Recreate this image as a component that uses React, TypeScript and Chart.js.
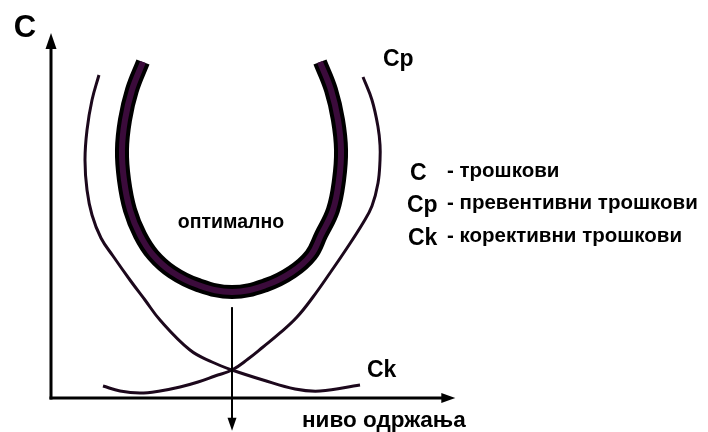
import { useEffect, useRef } from "react";
import { Chart, registerables } from "chart.js";

Chart.register(...registerables);

// maintenance level (x, 0..100) and cost (y, 0..100)
const correctiveLevel = [7.38, 6.31, 5.54, 5.23, 5.54, 6.31, 7.69, 9.54, 12.15, 14.46, 16.77, 21.38, 24.77, 27.85, 32.62, 37.54, 41.38, 47.54];
const correctiveCost = [88.49, 81.64, 73.42, 65.21, 56.99, 50.14, 43.84, 38.9, 32.33, 26.85, 21.37, 13.15, 9.86, 7.67, 4.93, 2.47, 1.92, 3.56];

const preventiveLevel = [8.0, 10.62, 13.69, 16.77, 19.85, 22.62, 25.23, 27.85, 30.31, 32.62, 35.23, 37.85, 40.31, 42.92, 45.54, 48.0, 49.38, 50.31, 50.62, 50.62, 50.31, 49.38, 48.0];
const preventiveCost = [3.29, 1.92, 1.37, 1.92, 3.01, 4.38, 6.03, 7.67, 10.68, 13.97, 17.81, 22.19, 27.67, 34.25, 41.1, 47.95, 52.6, 58.9, 65.2, 69.3, 74.25, 81.64, 87.95];

const totalLevel = [14.15, 12.46, 11.38, 10.92, 11.23, 12.15, 13.69, 15.69, 18.62, 22.62, 27.85, 33.08, 37.08, 40.0, 41.54, 43.38, 44.31, 44.62, 44.15, 43.08, 41.38];
const totalCost = [92.05, 84.38, 76.16, 67.95, 59.73, 51.51, 44.66, 39.18, 34.52, 30.96, 29.04, 30.96, 34.52, 39.18, 44.66, 51.51, 59.73, 67.95, 76.16, 84.38, 92.05];

const optimumLevel = 27.85;
const optimumLineTop = 24.9;
const optimumLineBottom = -9.0;
const xAxisEnd = 62.2;
const yAxisEnd = 100;

const axisTitleY = "C";
const axisTitleX = "ниво одржања";
const optimumLabel = "оптимално";
const curveLabels = ["Cp", "Ck"];
const legendSymbols = ["C", "Cp", "Ck"];
const legendTexts = ["- трошкови", "- превентивни трошкови", "- корективни трошкови"];

const toPoints = (xs: number[], ys: number[]) => xs.map((x, i) => ({ x, y: ys[i] }));

const FONT = "'Liberation Sans', Arial, sans-serif";

function arrow(ctx: CanvasRenderingContext2D, x1: number, y1: number, x2: number, y2: number, lw: number, hl: number, hw: number) {
  const dx = x2 - x1, dy = y2 - y1;
  const len = Math.hypot(dx, dy);
  const ux = dx / len, uy = dy / len;
  const bx = x2 - ux * hl, by = y2 - uy * hl;
  ctx.lineWidth = lw;
  ctx.beginPath();
  ctx.moveTo(x1, y1);
  ctx.lineTo(bx + ux, by + uy);
  ctx.stroke();
  ctx.beginPath();
  ctx.moveTo(x2, y2);
  ctx.lineTo(bx - uy * hw / 2, by + ux * hw / 2);
  ctx.lineTo(bx + uy * hw / 2, by - ux * hw / 2);
  ctx.closePath();
  ctx.fill();
}

const annotations = {
  id: "annotations",
  beforeDatasetsDraw(chart: any) {
    const { ctx, scales } = chart;
    const X = (v: number) => scales.x.getPixelForValue(v);
    const Y = (v: number) => scales.y.getPixelForValue(v);
    ctx.save();
    ctx.strokeStyle = "#000";
    ctx.fillStyle = "#000";
    ctx.lineCap = "butt";
    arrow(ctx, X(0), Y(0) + 1.5, X(0), Y(yAxisEnd), 3, 16, 11);
    arrow(ctx, X(0) - 1.5, Y(0), X(xAxisEnd), Y(0), 3, 14, 10);
    ctx.restore();
  },
  afterDatasetsDraw(chart: any) {
    const { ctx, scales } = chart;
    const X = (v: number) => scales.x.getPixelForValue(v);
    const Y = (v: number) => scales.y.getPixelForValue(v);
    ctx.save();
    ctx.strokeStyle = "#000";
    ctx.fillStyle = "#000";
    arrow(ctx, X(optimumLevel), Y(optimumLineTop), X(optimumLevel), Y(optimumLineBottom), 2, 13, 9);

    ctx.textBaseline = "alphabetic";
    ctx.textAlign = "center";
    ctx.font = `bold 31px ${FONT}`;
    ctx.fillText(axisTitleY, 25, 37);

    ctx.textAlign = "left";
    ctx.font = `bold 22.5px ${FONT}`;
    ctx.fillText(axisTitleX, 302, 427);

    ctx.textAlign = "center";
    ctx.font = `bold 19.5px ${FONT}`;
    ctx.fillText(optimumLabel, 231, 228);

    ctx.textAlign = "left";
    ctx.font = `bold 23px ${FONT}`;
    ctx.fillText(curveLabels[0], 383, 66);
    ctx.fillText(curveLabels[1], 367, 377);

    const baselines = [180, 212, 245];
    const symbolLeft = [410, 407, 408];
    legendSymbols.forEach((s, i) => {
      ctx.font = `bold 23px ${FONT}`;
      ctx.textAlign = "left";
      ctx.fillText(s, symbolLeft[i], baselines[i]);
      ctx.font = `bold 20.5px ${FONT}`;
      ctx.fillText(legendTexts[i], 447, baselines[i] - 3);
    });
    ctx.restore();
  },
};

export default function App() {
  const ref = useRef<HTMLCanvasElement | null>(null);
  useEffect(() => {
    document.body.style.margin = "0";
    const canvas = ref.current;
    if (!canvas) return;
    const thin = "#1c081c";
    const chart = new Chart(canvas, {
      type: "scatter",
      data: {
        datasets: [
          {
            data: toPoints(totalLevel, totalCost),
            showLine: true,
            borderColor: "#3b0b3b",
            borderWidth: 6,
            pointRadius: 0,
            tension: 0.4,
            order: 0,
          },
          {
            data: toPoints(totalLevel, totalCost),
            showLine: true,
            borderColor: "#000",
            borderWidth: 14,
            pointRadius: 0,
            tension: 0.4,
            borderCapStyle: "butt",
            order: 1,
          },
          {
            data: toPoints(correctiveLevel, correctiveCost),
            showLine: true,
            borderColor: thin,
            borderWidth: 3,
            pointRadius: 0,
            tension: 0.4,
            order: 2,
          },
          {
            data: toPoints(preventiveLevel, preventiveCost),
            showLine: true,
            borderColor: thin,
            borderWidth: 3,
            pointRadius: 0,
            tension: 0.4,
            order: 3,
          },
        ],
      },
      options: {
        animation: false,
        responsive: false,
        devicePixelRatio: 1,
        layout: { padding: { left: 51, top: 33, right: 7, bottom: 34 } },
        scales: {
          x: { type: "linear", min: 0, max: 100, display: false },
          y: { type: "linear", min: 0, max: 100, display: false },
        },
        plugins: { legend: { display: false }, tooltip: { enabled: false } },
        datasets: { scatter: { clip: false } as any },
      } as any,
      plugins: [annotations],
    });
    return () => chart.destroy();
  }, []);
  return <canvas ref={ref} width={708} height={432} style={{ display: "block" }} />;
}
